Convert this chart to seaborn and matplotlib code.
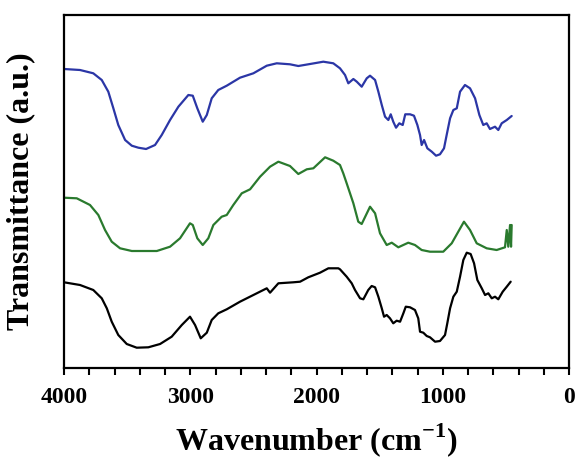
import numpy as np
import pandas as pd
import matplotlib
matplotlib.use("Agg")
import matplotlib.pyplot as plt
import seaborn as sns
from matplotlib.ticker import MultipleLocator

# ---- data (wavenumber in cm^-1, transmittance in arbitrary units) ----
blue_wn = [4000, 3873, 3768, 3701, 3649, 3609, 3570, 3516, 3463, 3411, 3350, 3279, 3226,
           3160, 3094, 3015, 2980, 2944, 2901, 2869, 2830, 2778, 2711, 2606, 2500, 2394,
           2315, 2210, 2144, 2051, 1946, 1867,
           1814, 1774, 1748, 1708, 1681, 1642, 1602, 1576, 1536, 1510, 1483, 1457, 1431,
           1412, 1392, 1370, 1344, 1317, 1297, 1259, 1228, 1201, 1180, 1167, 1148, 1122,
           1087, 1053, 1022, 990, 969, 942, 916, 889, 863, 824, 784, 744, 710, 679, 652,
           626, 586, 560, 533, 493, 454]
blue_t = [299, 298, 294.7, 288, 276.3, 259.7, 243, 228, 222.3, 220.3, 219, 223, 233,
          248, 261.3, 273, 272.3, 259.7, 246.3, 253, 269.7, 278, 282.3, 290.3, 294.7, 302.3,
          304.7, 303.7, 302, 304, 306.3, 304.7,
          299.7, 293, 284.7, 289, 286.3, 281.3, 289.7, 292.3, 288, 276.3, 263, 251.3, 248,
          253.7, 246.3, 240.3, 244.7, 243, 253.7, 253.7, 252.3, 243, 233, 223, 228, 219.7,
          216.3, 212.3, 213.7, 219.7, 233, 249.7, 258, 259.7, 276.3, 283, 279.7, 269.7, 253,
          243, 244.7, 239, 241.3, 238, 244.7, 248, 252]

green_wn = [4000, 3899, 3794, 3728, 3675, 3622, 3556, 3463, 3265, 3160, 3081, 3002, 2980,
            2944, 2901, 2857, 2817, 2751, 2711, 2659, 2592, 2526, 2447, 2368, 2302, 2210,
            2144, 2077, 2025, 1932, 1867, 1814, 1788, 1761, 1708, 1669, 1642, 1576, 1536,
            1497, 1444, 1404, 1352, 1273, 1220, 1167, 1101, 996, 929, 877, 832, 784, 731,
            652, 573, 507, 493, 481, 467, 459, 454]
green_t = [170.3, 169.7, 163, 153, 138, 126.3, 119.7, 117, 117, 121.3, 129.7, 144.7, 143,
           129.7, 123, 129.7, 143, 151.3, 153, 163, 174.7, 178.7, 191.3, 201.3, 206.3, 202,
           194, 198.7, 199.7, 210.7, 207.3, 203, 194.7, 184.7, 164.7, 146.3, 144, 161.3, 154.7,
           134.7, 123, 125.3, 120.7, 125.3, 123, 118, 116.3, 116.3, 124.7, 136.3, 146.3, 138,
           124.7, 119.7, 118, 120.7, 138, 121.3, 143, 121.3, 143]

black_wn = [4000, 3873, 3768, 3701, 3661, 3622, 3570, 3503, 3424, 3332, 3239, 3147, 3067,
            3002, 2962, 2917, 2869, 2830, 2778, 2711, 2606, 2500, 2394, 2368, 2302, 2184,
            2130, 2065, 1972, 1906, 1827,
            1814, 1761, 1721, 1695, 1655, 1629, 1590, 1563, 1536, 1510, 1483, 1465, 1444,
            1418, 1392, 1365, 1338, 1312, 1293, 1259, 1220, 1194, 1180, 1154, 1127, 1101,
            1061, 1022, 982, 964, 942, 916, 889, 863, 837, 810, 779, 752, 726, 691, 665,
            639, 612, 586, 560, 525, 493, 462]
black_t = [85.7, 83, 78, 69.7, 59.7, 46.3, 33, 24, 20.3, 20.7, 24, 31.3, 43,
           51.3, 43, 29.7, 35.3, 48, 54.7, 58.7, 66.3, 73, 79.7, 75.3, 84.7, 85.7,
           86.3, 90.7, 95.3, 99.7, 99.7,
           98.7, 91.3, 84.7, 78, 69.7, 68.7, 78, 82, 80.7, 71.3, 59.7, 51.3, 53,
           49.7, 44.7, 47.3, 46.3, 54.7, 61.3, 60.7, 58, 49.7, 36.3, 35.3, 32, 30.7,
           26.3, 27, 33, 44.7, 59.7, 71.3, 76.3, 91.3, 108, 115.3, 114, 104.7, 88, 79.7, 73,
           74.7, 69.7, 71.3, 68.7, 76.3, 81.3, 86.3]

x_ticks = [4000, 3000, 2000, 1000, 0]
x_label = "Wavenumber (cm$^{\\mathbf{-1}}$)"
y_label = "Transmittance (a.u.)"

sns.set_style("white")
plt.rcParams['font.family'] = ['Liberation Serif', 'DejaVu Serif']
plt.rcParams['mathtext.fontset'] = 'custom'
plt.rcParams['mathtext.rm'] = 'Liberation Serif'
plt.rcParams['mathtext.bf'] = 'Liberation Serif:bold'
plt.rcParams['text.color'] = 'black'
plt.rcParams['axes.labelcolor'] = 'black'
plt.rcParams['xtick.color'] = 'black'

fig = plt.figure(figsize=(5.76, 4.62), dpi=100)
ax = fig.add_axes([64/576, 1-368/462, (569-64)/576, (368-15)/462])

for wn, t, c in [(blue_wn, blue_t, "#2B36A6"), (green_wn, green_t, "#2A7A2E"),
                 (black_wn, black_t, "#000000")]:
    df = pd.DataFrame({"wn": wn, "t": t})
    sns.lineplot(data=df, x="wn", y="t", ax=ax, color=c, lw=1.6, sort=False,
                 estimator=None)

ax.set_xlim(4000, 0)
ax.set_ylim(0, 353)
ax.set_xticks(x_ticks)
ax.set_xticklabels([str(v) for v in x_ticks], fontsize=17, fontweight='bold')
ax.xaxis.set_minor_locator(MultipleLocator(200))
ax.tick_params(axis='x', which='both', direction='out', length=5, width=1.5,
               bottom=True, top=False, pad=9, colors='black')
ax.set_yticks([])
for s in ax.spines.values():
    s.set_linewidth(1.6)
    s.set_color('black')
ax.set_xlabel(x_label, fontsize=23, fontweight='bold', labelpad=9)
ax.set_ylabel(y_label, fontsize=23, fontweight='bold', labelpad=21)

fig.savefig("out.png", dpi=100)
